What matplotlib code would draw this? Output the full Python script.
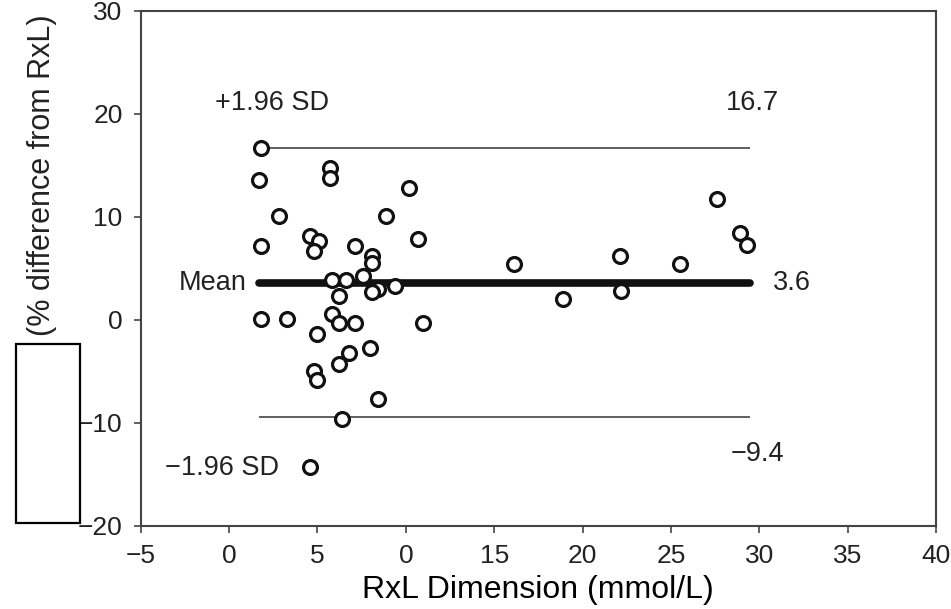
import matplotlib
matplotlib.use("Agg")
import matplotlib.pyplot as plt
from matplotlib.patches import Rectangle

plt.rcParams.update({
    "font.family": ["Liberation Sans", "DejaVu Sans"],
    "text.color": "#222222",
    "axes.edgecolor": "#444444",
    "xtick.color": "#444444",
    "ytick.color": "#444444",
    "xtick.labelcolor": "#222222",
    "ytick.labelcolor": "#222222",
})

# RxL dimension (mmol/L) and % difference from RxL
rxl = [1.8, 1.7, 5.7, 5.7, 10.2, 2.8, 8.9, 1.8, 4.6, 5.1, 4.8, 7.1, 10.7,
       8.1, 8.1, 5.8, 6.6, 7.6, 8.4, 8.1, 9.4, 6.2, 1.8, 3.3, 5.8, 6.2,
       7.1, 5.0, 11.0, 6.8, 8.0, 6.2, 4.8, 5.0, 8.4, 6.4, 4.6,
       16.1, 18.9, 22.1, 22.2, 25.5, 27.6, 28.9, 29.3]
pct_diff = [16.7, 13.6, 14.7, 13.8, 12.8, 10.1, 10.1, 7.2, 8.1, 7.6, 6.7, 7.2, 7.8,
            6.2, 5.5, 3.9, 3.9, 4.2, 3.0, 2.7, 3.3, 2.3, 0.1, 0.1, 0.6, -0.3,
            -0.3, -1.4, -0.3, -3.2, -2.7, -4.3, -5.0, -5.9, -7.7, -9.6, -14.3,
            5.4, 2.0, 6.2, 2.8, 5.4, 11.7, 8.4, 7.3]

mean_diff = 3.6
upper_sd = 16.7
lower_sd = -9.4
line_x = [1.7, 29.5]

xticks = [-5, 0, 5, 10, 15, 20, 25, 30, 35, 40]
xtick_labels = ["\u22125", "0", "5", "0", "15", "20", "25", "30", "35", "40"]
yticks = [-20, -10, 0, 10, 20, 30]
ytick_labels = ["\u221220", "\u221210", "0", "10", "20", "30"]

fig = plt.figure(figsize=(9.51, 6.09), dpi=100)
ax = fig.add_axes([0.148, 0.1368, 0.8362, 0.8456])

ax.hlines(upper_sd, line_x[0], line_x[1], color="#444444", lw=1.2, zorder=2)
ax.hlines(lower_sd, line_x[0], line_x[1], color="#444444", lw=1.2, zorder=2)
ax.hlines(mean_diff, line_x[0], line_x[1], color="#111111", lw=5.5,
          capstyle="round", zorder=2)

ax.plot(rxl, pct_diff, "o", ms=10, mfc="white", mec="#111111", mew=2.3,
        ls="none", zorder=3)

ax.set_xlim(-5, 40)
ax.set_ylim(-20, 30)
ax.set_xticks(xticks)
ax.set_xticklabels(xtick_labels)
ax.set_yticks(yticks)
ax.set_yticklabels(ytick_labels)
ax.tick_params(direction="out", length=5, width=1.2, labelsize=19, pad=8)
for sp in ax.spines.values():
    sp.set_linewidth(1.5)

ax.set_xlabel("RxL Dimension (mmol/L)", fontsize=23, labelpad=5)

fs = 19.5
ax.text(-0.8, 21.0, "+1.96 SD", fontsize=fs, ha="left", va="center")
ax.text(29.6, 21.0, "16.7", fontsize=fs, ha="center", va="center")
ax.text(1.0, mean_diff, "Mean", fontsize=fs, ha="right", va="center")
ax.text(30.8, mean_diff, "3.6", fontsize=fs, ha="left", va="center")
ax.text(29.9, -13.0, "\u22129.4", fontsize=fs, ha="center", va="center")
ax.text(-3.6, -14.4, "\u22121.96 SD", fontsize=fs, ha="left", va="center")

# y label, partly hidden by the white box in the source
fig.text(42 / 951, 1 - 14 / 609, "(% difference from RxL)", rotation=90,
         fontsize=22, ha="center", va="top")

# white box over the left edge of the figure
fig.patches.append(Rectangle((16 / 951, 1 - 523 / 609), 64 / 951, 179 / 609,
                             transform=fig.transFigure, facecolor="white",
                             edgecolor="black", lw=1.6, zorder=10))

fig.savefig("out.png", dpi=100)
